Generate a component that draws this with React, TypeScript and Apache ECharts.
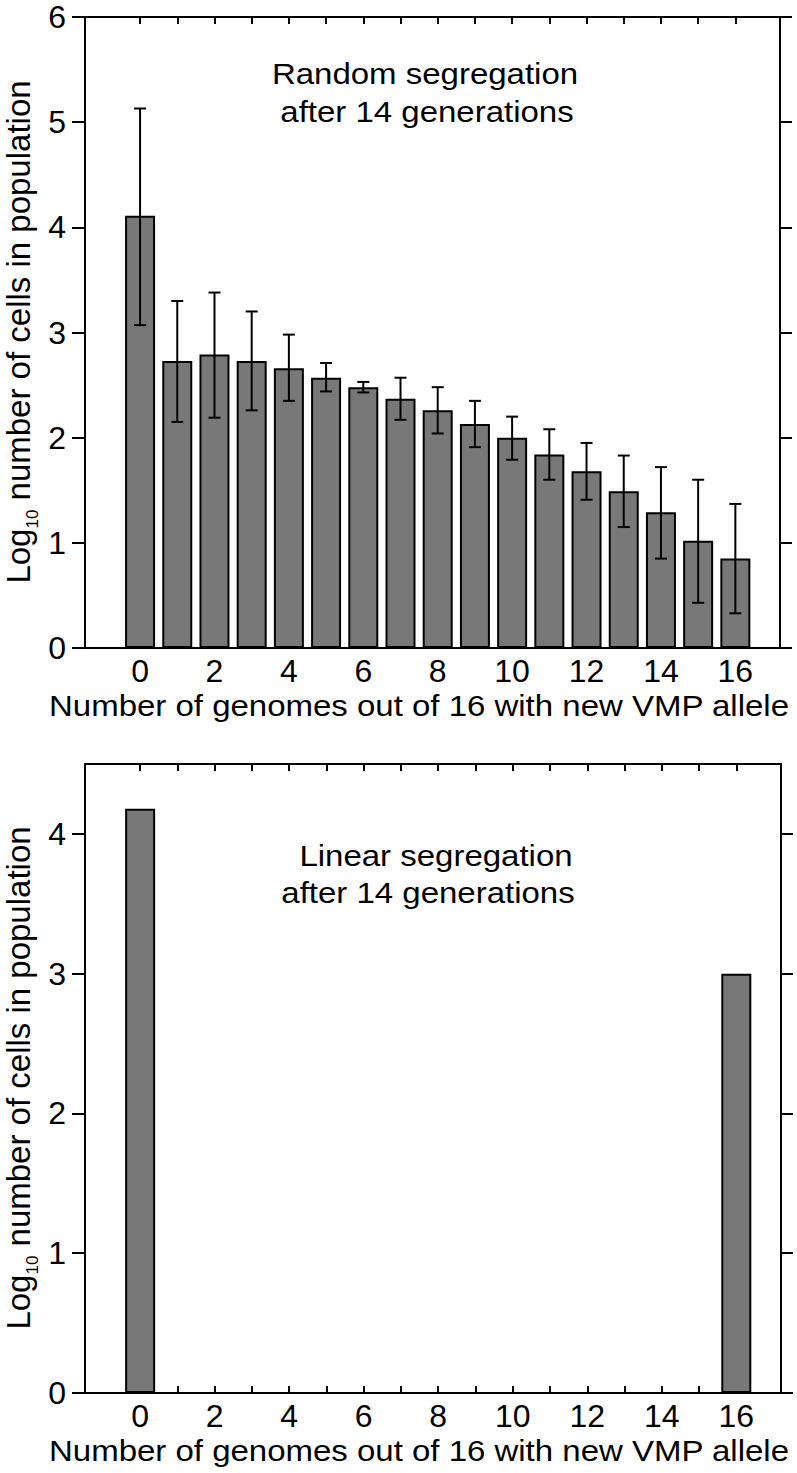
import React, { useEffect, useRef } from 'react';
import * as echarts from 'echarts';

const categories = [0, 1, 2, 3, 4, 5, 6, 7, 8, 9, 10, 11, 12, 13, 14, 15, 16];
const randomMeans = [4.11, 2.73, 2.79, 2.73, 2.66, 2.57, 2.48, 2.37, 2.26, 2.13, 2.0, 1.84, 1.68, 1.49, 1.29, 1.02, 0.85];
const randomLow = [3.07, 2.15, 2.19, 2.26, 2.35, 2.44, 2.43, 2.17, 2.04, 1.91, 1.79, 1.6, 1.41, 1.15, 0.85, 0.43, 0.33];
const randomHigh = [5.13, 3.3, 3.38, 3.2, 2.98, 2.71, 2.53, 2.57, 2.48, 2.35, 2.2, 2.08, 1.95, 1.83, 1.72, 1.6, 1.37];
const linearValues = [4.18, 0, 0, 0, 0, 0, 0, 0, 0, 0, 0, 0, 0, 0, 0, 0, 3.0];
const xTickValues = categories;
const xLabelValues = [0, 2, 4, 6, 8, 10, 12, 14, 16];
const topYTicks = [0, 1, 2, 3, 4, 5, 6];
const bottomYTicks = [0, 1, 2, 3, 4];
const topTitle = ['Random segregation', 'after 14 generations'];
const bottomTitle = ['Linear segregation', 'after 14 generations'];
const xName = 'Number of genomes out of 16 with new VMP allele';

const FONT = '"Liberation Sans", Arial, Helvetica, sans-serif';
const X_MIN = -1.48;
const X_MAX = 17.2;

export default function App() {
  const ref = useRef<HTMLDivElement>(null);
  useEffect(() => {
    document.body.style.margin = '0';
    const chart = echarts.init(ref.current!, null, { renderer: 'svg' });
    const line = { show: true, lineStyle: { color: '#000', width: 2 } };

    const xAxisPair = (gridIndex: number) => [
      {
        type: 'value', gridIndex, position: 'bottom', min: X_MIN, max: X_MAX,
        axisLine: { ...line, onZero: false },
        axisTick: { show: true, inside: true, length: 7, customValues: xTickValues, lineStyle: { color: '#000', width: 2 } },
        axisLabel: { show: true, customValues: xLabelValues, fontSize: 32, color: '#000', fontFamily: FONT, margin: 7 },
        splitLine: { show: false },
      },
      {
        type: 'value', gridIndex, position: 'top', min: X_MIN, max: X_MAX,
        axisLine: { ...line, onZero: false },
        axisTick: { show: true, inside: true, length: 7, customValues: xTickValues, lineStyle: { color: '#000', width: 2 } },
        axisLabel: { show: false },
        splitLine: { show: false },
      },
    ];
    const yAxisPair = (gridIndex: number, max: number, ticks: number[]) => [
      {
        type: 'value', gridIndex, position: 'left', min: 0, max,
        axisLine: { ...line, onZero: false },
        axisTick: { show: true, inside: false, length: 13, customValues: ticks, lineStyle: { color: '#000', width: 2 } },
        axisLabel: { show: true, customValues: ticks, fontSize: 32, color: '#000', fontFamily: FONT, margin: 19 },
        splitLine: { show: false },
      },
      {
        type: 'value', gridIndex, position: 'right', min: 0, max,
        axisLine: { ...line, onZero: false },
        axisTick: { show: true, inside: false, length: 12, customValues: ticks, lineStyle: { color: '#000', width: 2 } },
        axisLabel: { show: false },
        splitLine: { show: false },
      },
    ];

    const errorRender = (params: any, api: any) => {
      const x = api.value(0);
      const lo = api.value(1);
      const hi = api.value(2);
      const pLo = api.coord([x, lo]);
      const pHi = api.coord([x, hi]);
      const w = 6;
      const style = { stroke: '#000', lineWidth: 2 };
      return {
        type: 'group',
        children: [
          { type: 'line', shape: { x1: pLo[0], y1: pLo[1], x2: pHi[0], y2: pHi[1] }, style },
          { type: 'line', shape: { x1: pLo[0] - w, y1: pLo[1], x2: pLo[0] + w, y2: pLo[1] }, style },
          { type: 'line', shape: { x1: pHi[0] - w, y1: pHi[1], x2: pHi[0] + w, y2: pHi[1] }, style },
        ],
      };
    };

    const titleText = (text: string, x: number, y: number, size = 30) => ({
      type: 'text', x, y, scaleX: 1.1, z: 100,
      style: {
        text, fill: '#000', fontSize: size, fontFamily: FONT,
        align: 'center', verticalAlign: 'middle', textAlign: 'center', textVerticalAlign: 'middle',
      },
    });
    const yNameText = (y: number) => ({
      type: 'text', x: 20, y, rotation: Math.PI / 2, z: 100,
      style: {
        text: '{a|Log}{s|10}{a| number of cells in population}',
        fill: '#000', fontFamily: FONT,
        align: 'center', verticalAlign: 'middle', textAlign: 'center', textVerticalAlign: 'middle',
        rich: {
          a: { fontSize: 33, fontFamily: FONT, fill: '#000', color: '#000', lineHeight: 36, verticalAlign: 'top' },
          s: { fontSize: 17, fontFamily: FONT, fill: '#000', color: '#000', lineHeight: 17, verticalAlign: 'top', padding: [22, 0, 0, 0] },
        },
      },
    });

    chart.setOption({
      animation: false,
      grid: [
        { left: 85, right: 17, top: 17, height: 631 },
        { left: 85, right: 16, top: 764, height: 629 },
      ],
      xAxis: [...xAxisPair(0), ...xAxisPair(1)],
      yAxis: [...yAxisPair(0, 6, topYTicks), ...yAxisPair(1, 4.5, bottomYTicks)],
      series: [
        {
          type: 'bar', xAxisIndex: 0, yAxisIndex: 0, barWidth: 30,
          data: categories.map((c, i) => [c, randomMeans[i]]),
          itemStyle: { color: '#787878', borderColor: '#000', borderWidth: 2 },
        },
        {
          type: 'custom', xAxisIndex: 0, yAxisIndex: 0, z: 10,
          data: categories.map((c, i) => [c, randomLow[i], randomHigh[i]]),
          encode: { x: 0, y: [1, 2] },
          renderItem: errorRender,
        },
        {
          type: 'bar', xAxisIndex: 2, yAxisIndex: 2, barWidth: 30,
          data: categories.map((c, i) => [c, linearValues[i]]).filter((d) => d[1] > 0),
          itemStyle: { color: '#787878', borderColor: '#000', borderWidth: 2 },
        },
      ],
      graphic: [
        titleText(topTitle[0], 425, 74),
        titleText(topTitle[1], 427, 112),
        titleText(bottomTitle[0], 436, 856),
        titleText(bottomTitle[1], 428, 893),
        titleText(xName, 419, 706),
        titleText(xName, 419, 1451),
        yNameText(332),
        yNameText(1078),
      ],
    });
    return () => chart.dispose();
  }, []);
  return <div ref={ref} style={{ width: 797, height: 1473 }} />;
}
